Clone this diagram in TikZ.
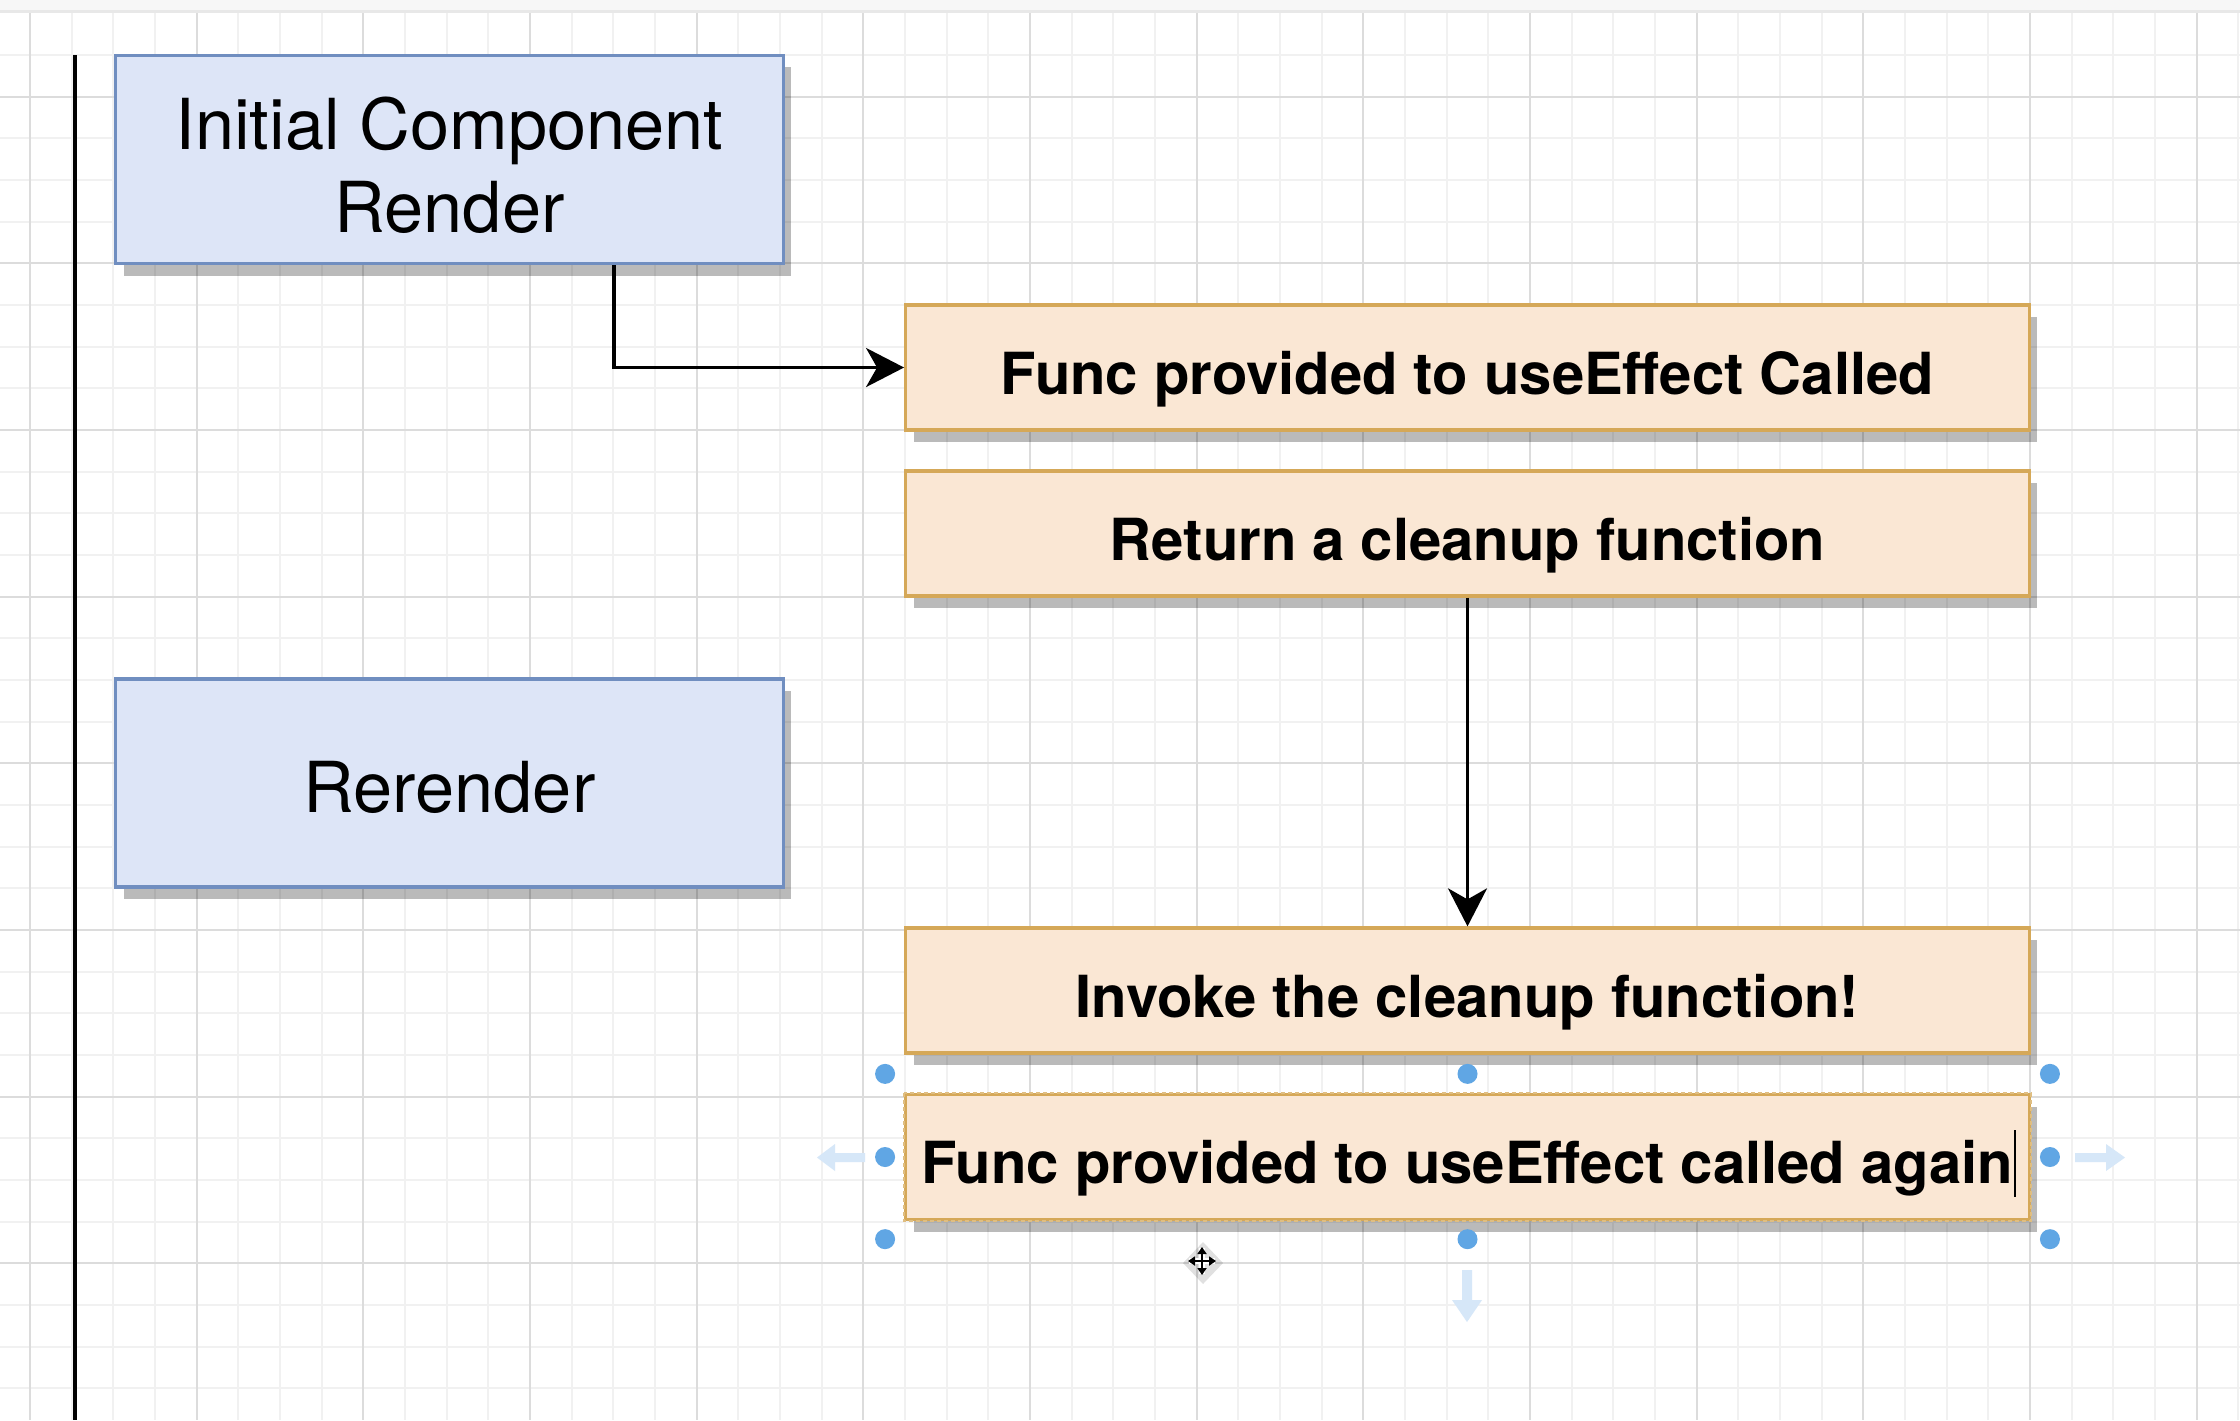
\documentclass[tikz,border=0pt]{standalone}
\usepackage{fontspec}
\setmainfont{TeX Gyre Heros}
\usetikzlibrary{arrows.meta,shadows}

\definecolor{blueFill}{RGB}{221,229,247}
\definecolor{blueLine}{RGB}{112,142,192}
\definecolor{orangeFill}{RGB}{250,231,212}
\definecolor{orangeLine}{RGB}{213,168,88}
\definecolor{gridMinor}{RGB}{241,241,241}
\definecolor{gridMajor}{RGB}{220,220,220}
\definecolor{handleBlue}{RGB}{96,166,228}
\definecolor{hintBlue}{RGB}{214,231,248}

\tikzset{
  boxshadow/.style={general shadow={fill=black, opacity=0.27,
      shadow xshift=0.08cm, shadow yshift=-0.12cm}},
  bluebox/.style={draw=blueLine, fill=blueFill, line width=0.032cm,
      inner sep=0pt, minimum width=6.67cm, minimum height=2.08cm,
      align=center, boxshadow,
      font=\fontsize{20}{23.6}\selectfont},
  orangebox/.style={draw=orangeLine, fill=orangeFill, line width=0.032cm,
      inner sep=0pt, minimum width=11.23cm, minimum height=1.25cm,
      boxshadow, font=\fontsize{16.5}{20}\selectfont\bfseries},
  conn/.style={draw=black, line width=0.034cm,
      -{Stealth[length=0.38cm, width=0.39cm, inset=0.11cm]}},
  handle/.style={fill=handleBlue},
  hint/.style={fill=hintBlue},
}

% label whose last baseline sits half of #1 below the centre of its box
\newcommand{\boxtext}[2]{\raisebox{0pt}[#1][0pt]{\begin{tabular}[b]{@{}c@{}}#2\end{tabular}}}

\begin{document}
\begin{tikzpicture}[x=0.01cm, y=-0.01cm]
  % canvas
  \fill[white] (0,0) rectangle (2240,1420);
  \useasboundingbox (0,0) rectangle (2240,1420);
  \fill[gray!6] (0,0) rectangle (2240,10);

  % background grid, snapped to whole pixels
  \foreach \k in {0,...,53} {
    \pgfmathtruncatemacro{\gx}{round(30+41.6667*\k)}
    \draw[gridMinor, line width=0.012cm] (\gx,12) -- (\gx,1420);
  }
  \foreach \k in {1,...,33} {
    \pgfmathtruncatemacro{\gy}{round(13.333+41.6667*\k)}
    \draw[gridMinor, line width=0.012cm] (0,\gy) -- (2240,\gy);
  }
  \foreach \k in {0,...,13} {
    \pgfmathtruncatemacro{\gx}{round(30+166.6667*\k)}
    \draw[gridMajor, line width=0.016cm] (\gx,12) -- (\gx,1420);
  }
  \foreach \k in {0,...,7} {
    \pgfmathtruncatemacro{\gy}{round(96.667+166.6667*\k)}
    \draw[gridMajor, line width=0.016cm] (0,\gy) -- (2240,\gy);
  }
  \draw[gray!18, line width=0.03cm] (0,11.5) -- (2240,11.5);

  % timeline rule
  \draw[black, line width=0.034cm] (75,55) -- (75,1420);

  % component lifecycle boxes
  \node[bluebox] (render) at (449.5,159.5)
    {\boxtext{1.45cm}{Initial Component\\Render}};
  \node[bluebox] (rerender) at (449.5,783) {\boxtext{0.58cm}{Rerender}};

  % effect steps
  \node[orangebox] (effect) at (1467.5,367.5)
    {\boxtext{0.53cm}{Func provided to useEffect Called}};
  \node[orangebox] (cleanup) at (1467.5,533.5)
    {\boxtext{0.53cm}{Return a cleanup function}};
  \node[orangebox] (invoke) at (1467.5,990.5)
    {\boxtext{0.53cm}{Invoke the cleanup function!}};
  \node[orangebox] (again) at (1467.5,1157)
    {\boxtext{0.53cm}{Func provided to useEffect called again}};
  \draw[orangeLine!75!white, line width=0.02cm, dash pattern=on 0.04cm off 0.03cm]
    (again.north west) rectangle (again.south east);

  % text cursor
  \draw[black, line width=0.028cm] (2015,1130) -- (2015,1197);

  % connectors
  \draw[conn] ([xshift=1.645cm]render.south) |- (effect.west);
  \draw[conn] (cleanup.south) -- (invoke.north);

  % selection handles
  \foreach \a/\dx/\dy in {north west/-19/-19, north/0/-19, north east/19/-19,
                          west/-19/0, east/19/0,
                          south west/-19/18, south/0/18, south east/19/18}
    \fill[handle] ([shift={(\dx,\dy)}]again.\a) circle[radius=0.1cm];

  % hover hint arrows
  \fill[hint] (865,1153) -- (835,1153) -- (835,1144) -- (817,1157.5)
    -- (835,1171) -- (835,1162) -- (865,1162) -- cycle;
  \fill[hint] (2075,1153) -- (2106,1153) -- (2106,1144) -- (2125,1157.5)
    -- (2106,1171) -- (2106,1162) -- (2075,1162) -- cycle;
  \fill[hint] (1462,1270) -- (1462,1300) -- (1452,1300) -- (1467,1322)
    -- (1482,1300) -- (1472,1300) -- (1472,1270) -- cycle;

  % move cursor
  \fill[black, opacity=0.12] (1203,1242) -- (1223,1263) -- (1203,1284)
    -- (1183,1263) -- cycle;
  \draw[white, line width=0.06cm] (1189,1261) -- (1215,1261)
    (1202,1248) -- (1202,1274);
  \draw[black, line width=0.025cm,
        {Triangle[length=0.07cm,width=0.09cm]}-{Triangle[length=0.07cm,width=0.09cm]}]
    (1188,1261) -- (1216,1261);
  \draw[black, line width=0.025cm,
        {Triangle[length=0.07cm,width=0.09cm]}-{Triangle[length=0.07cm,width=0.09cm]}]
    (1202,1247) -- (1202,1275);
\end{tikzpicture}
\end{document}
